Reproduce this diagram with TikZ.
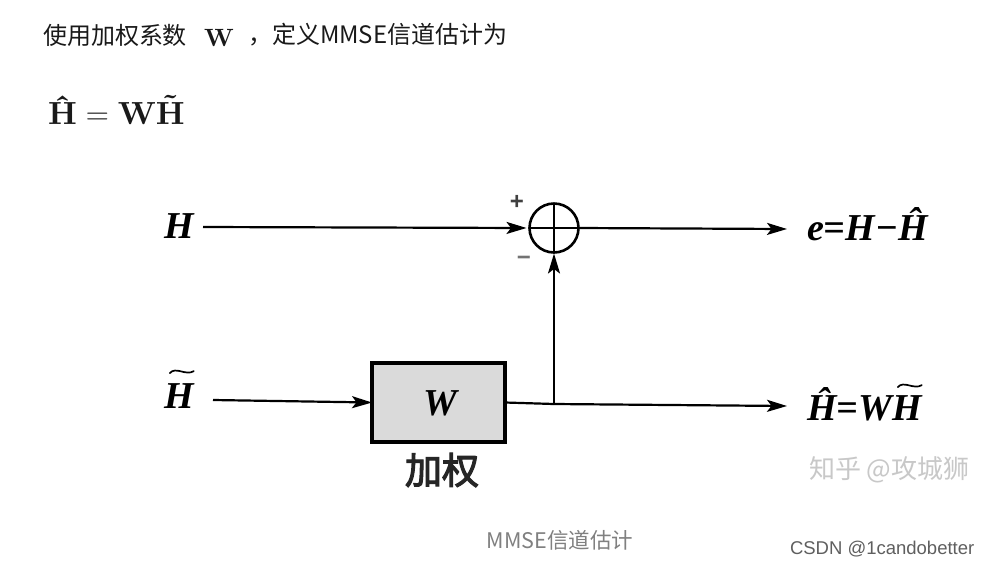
\documentclass[tikz,border=0pt]{standalone}
\usepackage{fontspec}
\newfontfamily\tms{Liberation Serif}
\newfontfamily\lmb{lmroman10-bold.otf}
\setsansfont{Liberation Sans}
\newfontfamily\cjk{Noto Sans CJK SC}
\newfontfamily\cjkm{Noto Sans CJK SC}[FakeBold=3]
\usetikzlibrary{arrows.meta,calc}
\definecolor{txt}{RGB}{25,25,25}
\definecolor{boxfill}{RGB}{218,218,218}
\definecolor{capgray}{RGB}{128,128,128}
\definecolor{csdngray}{RGB}{95,95,95}
\definecolor{wmgray}{RGB}{200,200,200}
\newcommand\lbl{\tms\fontsize{38}{44}\selectfont\bfseries\itshape}
\newcommand\tildeover[1]{\leavevmode\setbox0\hbox{#1}\rlap{\hbox to\wd0{\hss\raisebox{0.22em}{˜}\hss}}\box0}
\begin{document}
\begin{tikzpicture}[x=1pt,y=-1pt,
  every node/.style={inner sep=0pt, outer sep=0pt},
  arr/.style={line width=2.2pt, -{Stealth[length=20pt,width=12pt,inset=4.5pt]}},
  wire/.style={line width=2.2pt},
  tld/.style={line width=1.7pt, line cap=round},
  lab/.style={font=\lbl, anchor=base west},
  head/.style={font=\cjk\fontsize{24}{28}\selectfont, text=txt, anchor=west}]
\fill[white] (0,0) rectangle (994,566);
\useasboundingbox (0,0) rectangle (994,566);

% header
\node[head] (h1) at (43,35) {使用加权系数};
\node[text=txt, anchor=base] (hw) at (219,46) {\lmb\fontsize{25}{30}\selectfont W};
\node[head] (h2) at (248,35) {，定义MMSE信道估计为};
\node[anchor=base west, text=txt] (eq) at (48,124) {\fontsize{32}{38}\selectfont\lmb Ĥ\hspace{0.28em}{\rmfamily =}\hspace{0.28em}W\tildeover{H}};

% diagram
\node[lab] (H) at (164,238) {H};
\node[lab] (Ht) at (164,408) {H};
\draw[tld] ($(Ht.north)+(-9,-10)$) .. controls +(6,-7) and +(-8,5) .. ($(Ht.north)+(15,-12)$);
\node[draw, circle, line width=2.6pt, minimum size=49pt] (sum) at (554,228) {};
\draw[line width=2.2pt] (sum.north) -- (sum.south) (sum.west) -- (sum.east);
\node[font=\sffamily\bfseries\fontsize{24}{26}\selectfont, text=black!75] (plus) at (517,202) {+};
\node[font=\sffamily\bfseries\fontsize{24}{26}\selectfont, text=black!55] (minus) at (524,261) {−};
\node[draw, line width=3.5pt, fill=boxfill, minimum width=133pt, minimum height=79pt] (box) at (438.5,402.5) {};
\node[font=\lbl, anchor=base] (Wb) at (440,415) {W};
\node[font=\cjkm\fontsize{37}{40}\selectfont, text=black!85] (jq) at (442,470) {加权};
\node[lab] (e) at (807,240) {e=H−Ĥ};
\node[lab] (Hh) at (807,420) {Ĥ=W};
\node[lab] (Hh2) at (Hh.base east) {H};
\draw[tld] ($(Hh2.north)+(-9,-8)$) .. controls +(6,-7) and +(-8,5) .. ($(Hh2.north)+(15,-10)$);

\coordinate (hs) at (203,227);
\coordinate (hts) at (213,400);
\coordinate (eo) at (787,229);
\coordinate (ho) at (787,406);
\coordinate (j) at (554,404);

\draw[arr, shorten >=3pt] (hs) -- (sum.west);
\draw[arr] (sum.east) -- (eo);
\draw[arr] (hts) -- (box.west);
\draw[wire] (box.east) -- (j);
\draw[arr] (j) -- (ho);
\draw[arr, shorten >=1pt] (j) -- (sum.south);

% watermarks and caption
\node[font=\cjk\fontsize{26}{30}\selectfont, text=wmgray, anchor=west] (wm) at (809,470) {知乎 @攻城狮};
\node[font=\cjk\fontsize{21.5}{26}\selectfont, text=capgray] (cap) at (560,540) {MMSE信道估计};
\node[font=\sffamily\fontsize{18.5}{22}\selectfont, text=csdngray, anchor=west] (csdn) at (790,549) {CSDN @1candobetter};
\end{tikzpicture}
\end{document}
